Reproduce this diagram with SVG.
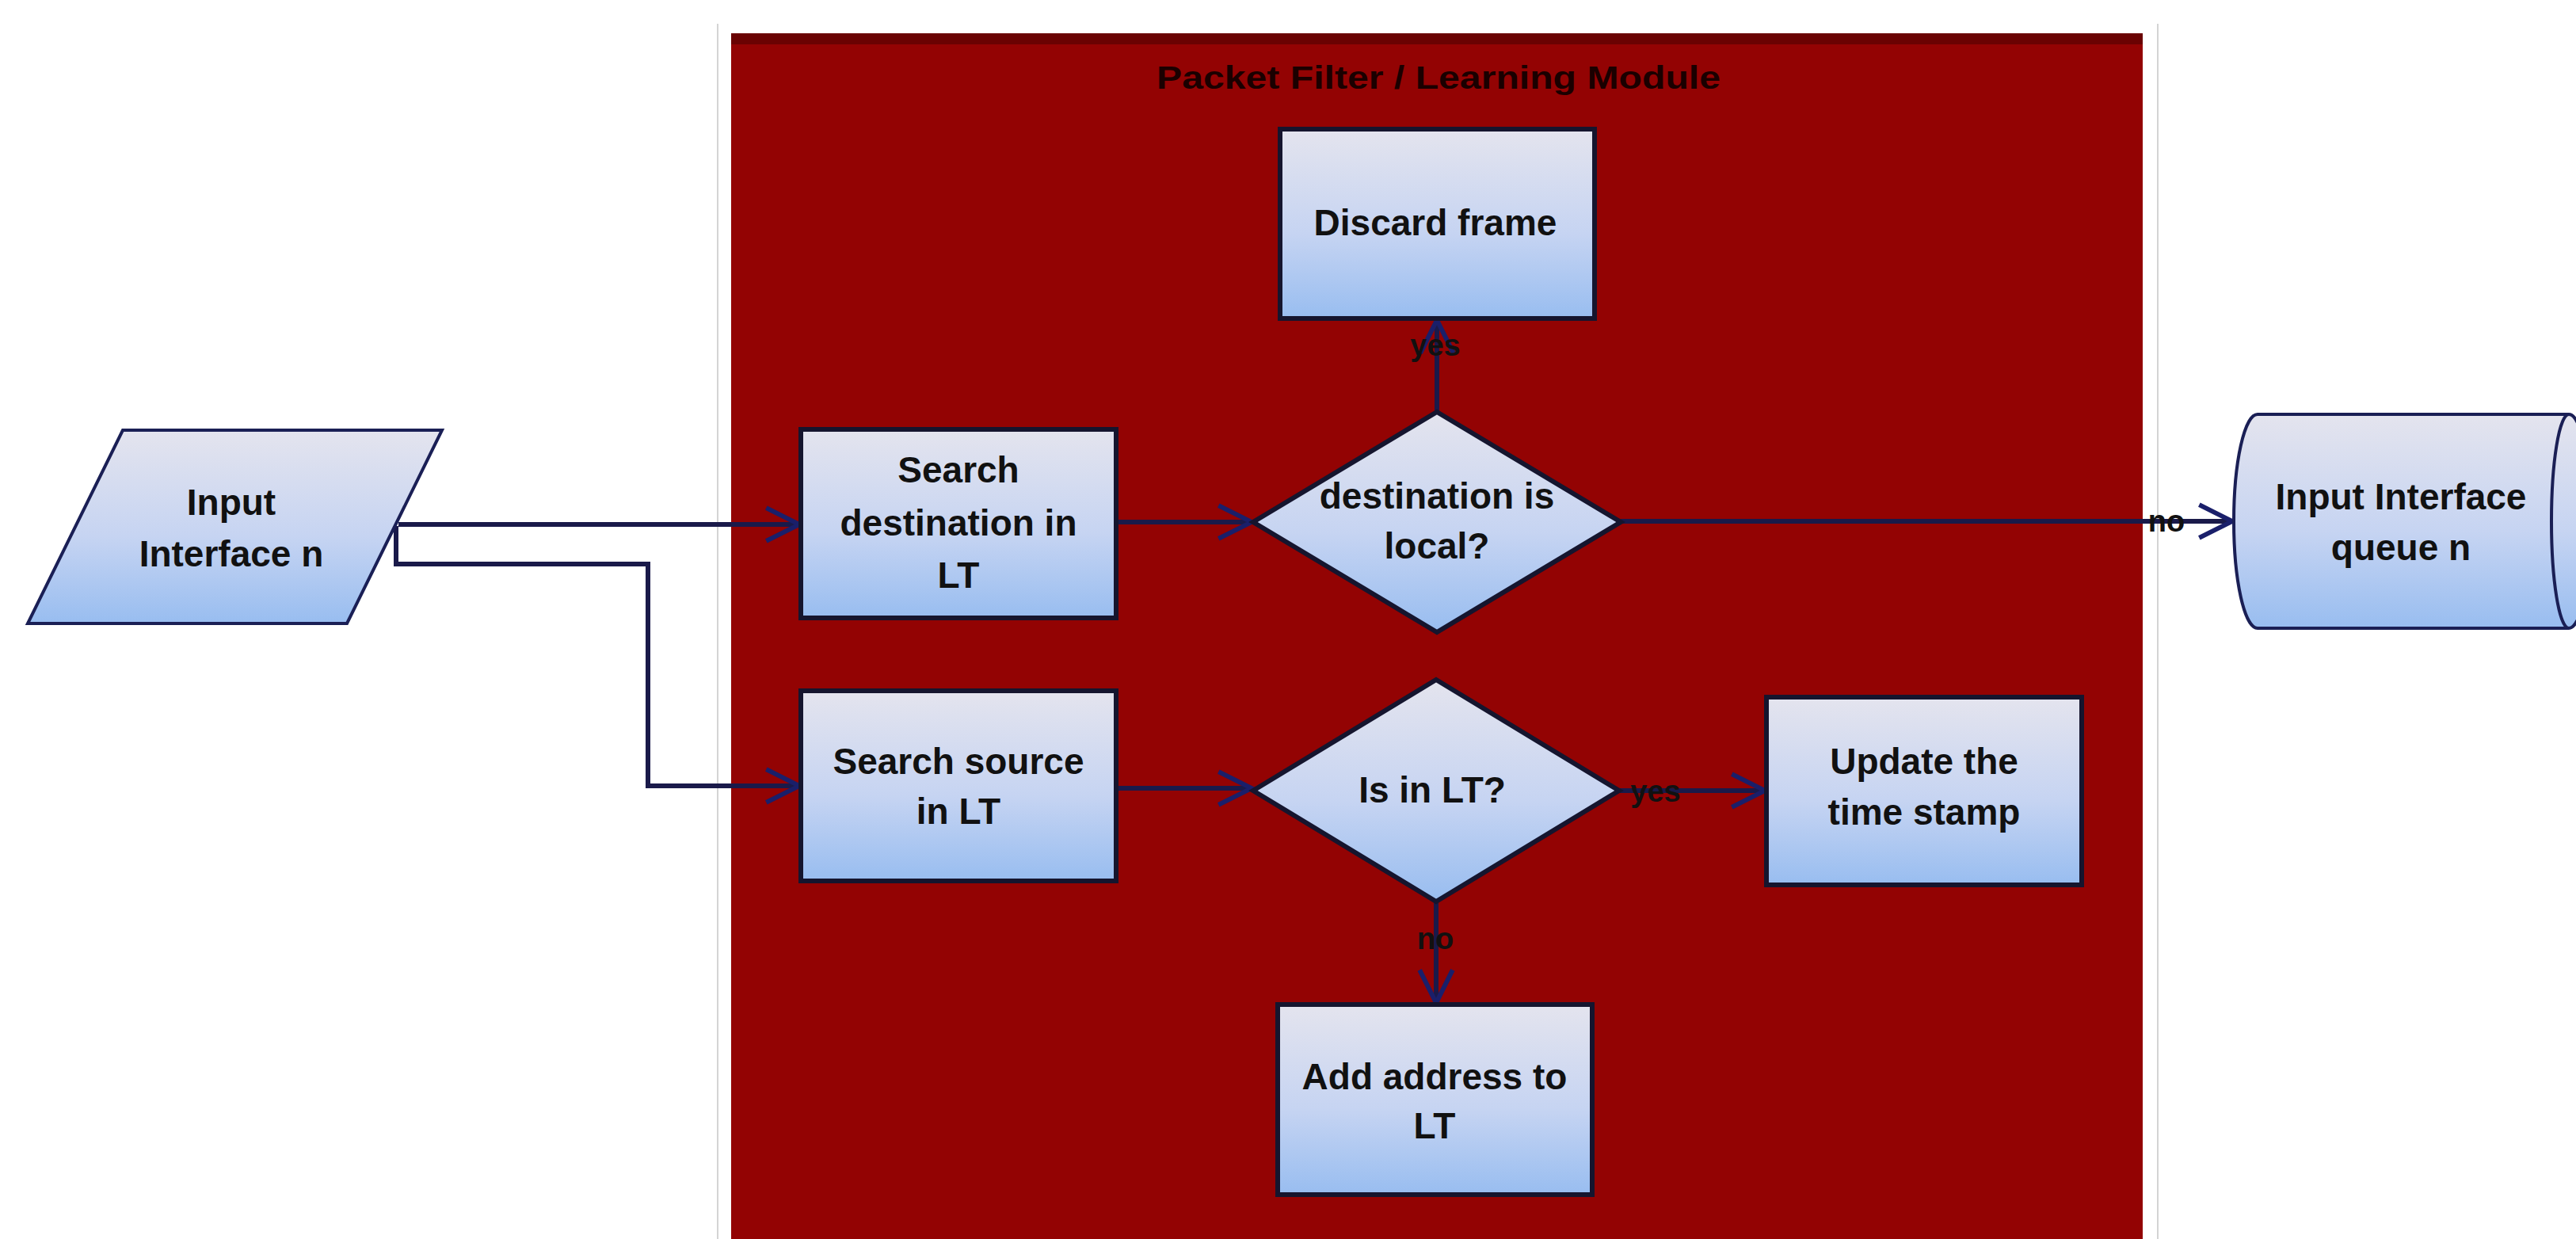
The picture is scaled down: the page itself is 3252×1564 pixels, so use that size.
<svg xmlns="http://www.w3.org/2000/svg" width="3252" height="1564" viewBox="0 0 3252 1564">
<style>
.node{stroke:#15152e;stroke-width:6;}
.nodeThin{stroke:#1a1f55;stroke-width:4;}
.t{font-family:"Liberation Sans",Arial,sans-serif;font-weight:bold;font-size:46px;fill:#111;text-anchor:middle;}
.lbl{font-family:"Liberation Sans",Arial,sans-serif;font-weight:bold;font-size:38px;fill:#111;text-anchor:middle;}
.title{font-family:"Liberation Sans",Arial,sans-serif;font-weight:bold;font-size:40px;fill:#1a0000;text-anchor:middle;}
.edge{fill:none;stroke:#1a1a4a;stroke-width:6;}
</style>
<defs>
<linearGradient id="g" x1="0" y1="0" x2="0" y2="1">
<stop offset="0" stop-color="#e4e4ee"/>
<stop offset="0.55" stop-color="#c6d4f2"/>
<stop offset="1" stop-color="#98bdf0"/>
</linearGradient>
<marker id="arr" viewBox="0 0 12 12" refX="11" refY="6" markerWidth="50" markerHeight="50" markerUnits="userSpaceOnUse" orient="auto">
<path d="M1,1 L11,6 L1,11" fill="none" stroke="#1a1f6a" stroke-width="1.4"/>
</marker>
</defs>
<rect width="3252" height="1564" fill="#ffffff"/>
<g id="frame">
<line x1="906" y1="30" x2="906" y2="1564" stroke="#d4d4d4" stroke-width="2"/>
<line x1="2724" y1="30" x2="2724" y2="1564" stroke="#d4d4d4" stroke-width="2"/>
</g>
<g id="module">
<rect x="923" y="42" width="1782" height="1522" fill="#930303"/>
<rect x="923" y="42" width="1782" height="14" fill="#6a0202"/>
<text class="title" x="1816" y="112" textLength="712" lengthAdjust="spacingAndGlyphs">Packet Filter / Learning Module</text>
</g>
<g id="connectors">
<path class="edge" d="M503,662 H1009" marker-end="url(#arr)"/>
<path class="edge" d="M500,664 V712 H818 V992 H1009" marker-end="url(#arr)"/>
<path class="edge" d="M1409,659 H1580" marker-end="url(#arr)"/>
<path class="edge" d="M1814,520 V404" marker-end="url(#arr)"/>
<path class="edge" d="M2046,658 H2818" marker-end="url(#arr)"/>
<path class="edge" d="M1409,995 H1580" marker-end="url(#arr)"/>
<path class="edge" d="M2044,998 H2228" marker-end="url(#arr)"/>
<path class="edge" d="M1813,1138 V1266" marker-end="url(#arr)"/>
<text class="lbl" x="1812" y="449">yes</text>
<text class="lbl" x="2735" y="671">no</text>
<text class="lbl" x="2090" y="1012">yes</text>
<text class="lbl" x="1812" y="1198">no</text>
</g>
<g id="input">
<polygon class="nodeThin" fill="url(#g)" points="155,543 558,543 438,787 35,787"/>
<text class="t" x="292" y="650">Input</text>
<text class="t" x="292" y="715">Interface n</text>
</g>
<g id="search_dst">
<rect class="node" fill="url(#g)" x="1011" y="542" width="398" height="238"/>
<text class="t" x="1210" y="609">Search</text>
<text class="t" x="1210" y="676">destination in</text>
<text class="t" x="1210" y="742">LT</text>
</g>
<g id="search_src">
<rect class="node" fill="url(#g)" x="1011" y="872" width="398" height="240"/>
<text class="t" x="1210" y="977">Search source</text>
<text class="t" x="1210" y="1040">in LT</text>
</g>
<g id="decision_dst">
<polygon class="node" fill="url(#g)" points="1814,520 2046,659 1814,798 1582,659"/>
<text class="t" x="1814" y="642">destination is</text>
<text class="t" x="1814" y="705">local?</text>
</g>
<g id="decision_src">
<polygon class="node" fill="url(#g)" points="1813,858 2044,998 1813,1138 1582,998"/>
<text class="t" x="1808" y="1013">Is in LT?</text>
</g>
<g id="discard">
<rect class="node" fill="url(#g)" x="1616" y="163" width="397" height="239"/>
<text class="t" x="1812" y="297">Discard frame</text>
</g>
<g id="update">
<rect class="node" fill="url(#g)" x="2230" y="880" width="398" height="237"/>
<text class="t" x="2429" y="977">Update the</text>
<text class="t" x="2429" y="1041">time stamp</text>
</g>
<g id="add">
<rect class="node" fill="url(#g)" x="1613" y="1268" width="397" height="240"/>
<text class="t" x="1811" y="1375">Add address to</text>
<text class="t" x="1811" y="1437">LT</text>
</g>
<g id="queue">
<path class="nodeThin" fill="url(#g)" d="M2850,523 L3243,523 A28,135 0 0,1 3243,793 L2850,793 A30,135 0 0,1 2850,523 Z"/>
<path class="nodeThin" fill="none" d="M3243,523 A22,135 0 0,0 3243,793"/>
<text class="t" x="3031" y="643">Input Interface</text>
<text class="t" x="3031" y="707">queue n</text>
</g>
</svg>
